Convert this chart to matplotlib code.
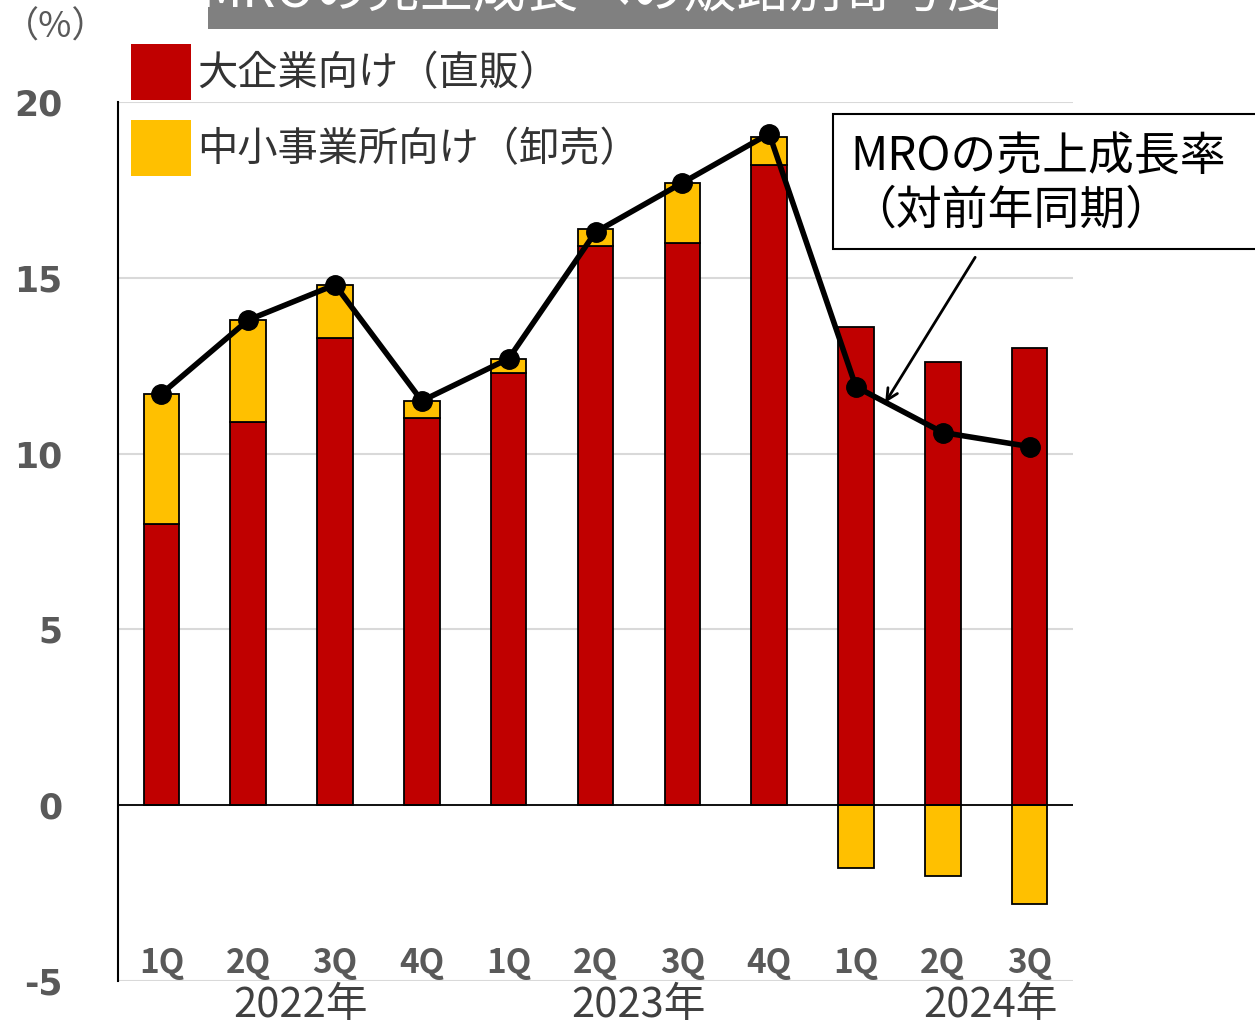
import matplotlib
matplotlib.use("Agg")
import matplotlib.pyplot as plt
from matplotlib.patches import Rectangle, Patch
import numpy as np

plt.rcParams['font.family'] = ['Noto Sans CJK JP', 'DejaVu Sans']

quarters = ["1Q", "2Q", "3Q", "4Q", "1Q", "2Q", "3Q", "4Q", "1Q", "2Q", "3Q"]
years = ["2022年", "2023年", "2024年"]
year_pos = [1.6, 5.5, 9.55]

direct = [8.0, 10.9, 13.3, 11.0, 12.3, 15.9, 16.0, 18.2, 13.6, 12.6, 13.0]
wholesale = [3.7, 2.9, 1.5, 0.5, 0.4, 0.5, 1.7, 0.8, -1.8, -2.0, -2.8]
growth = [11.7, 13.8, 14.8, 11.5, 12.7, 16.3, 17.7, 19.1, 11.9, 10.6, 10.2]

red = "#c00000"
yellow = "#ffc000"
gray = "#595959"

W, H = 1255, 1027
fig = plt.figure(figsize=(W / 100, H / 100), dpi=100)
ax = fig.add_axes([118 / W, 1 - 981 / H, (1073 - 118) / W, (981 - 102) / H])

x = np.arange(len(quarters))
direct = np.array(direct)
wholesale = np.array(wholesale)
bottom_w = np.where(wholesale >= 0, direct, 0)

ax.bar(x, direct, width=0.41, color=red, edgecolor="black", linewidth=1.3, zorder=3)
ax.bar(x, wholesale, width=0.41, bottom=bottom_w, color=yellow, edgecolor="black",
       linewidth=1.3, zorder=3)
ax.plot(x, growth, color="black", linewidth=4, marker="o", markersize=14, zorder=5)

ax.set_xlim(-0.5, 10.5)
ax.set_ylim(-5, 20)
ax.set_yticks([-5, 0, 5, 10, 15, 20])
ax.set_yticklabels(["-5", "0", "5", "10", "15", "20"])
ax.tick_params(axis="y", length=0, pad=40, labelsize=25, labelcolor=gray)
for t in ax.get_yticklabels():
    t.set_fontweight("bold")
    t.set_family("DejaVu Sans")
ax.set_xticks([])
ax.grid(axis="y", color="#d9d9d9", linewidth=1.5, zorder=0)
ax.axhline(0, color="black", linewidth=1.3, zorder=4)
for s in ["top", "right", "bottom"]:
    ax.spines[s].set_visible(False)
ax.spines["left"].set_color("black")
ax.spines["left"].set_linewidth(1.5)

for i, q in enumerate(quarters):
    ax.text(i, -4.5, q, ha="center", va="center", fontsize=24, color=gray,
            fontweight="bold")
for p, yl in zip(year_pos, years):
    ax.text(p, -5.1, yl, ha="center", va="top", fontsize=30, color="#404040",
            clip_on=False)

fig.text(3 / W, 1 - 28 / H, "（%）", ha="left", va="center", fontsize=26, color=gray)

handles = [Patch(facecolor=red, edgecolor="none"), Patch(facecolor=yellow, edgecolor="none")]
fig.legend(handles, ["大企業向け（直販）", "中小事業所向け（卸売）"], loc="upper left",
           bbox_to_anchor=(131 / W, 1 - 44 / H), frameon=False, fontsize=29,
           handlelength=1.5, handleheight=1.75, handletextpad=0.15, labelspacing=0.5,
           labelcolor="#333333", borderaxespad=0, borderpad=0)

# title box (cut at the top of the picture)
fig.patches.append(Rectangle((208 / W, 1 - 29 / H), 790 / W, 60 / H,
                             transform=fig.transFigure, facecolor="#808080",
                             edgecolor="none"))
fig.text(600 / W, 1 + 8 / H, "MROの売上成長への販路別寄与度", ha="center", va="center",
         fontsize=38, color="white")

# annotation box
fig.patches.append(Rectangle((833 / W, 1 - 249 / H), 440 / W, 135 / H,
                             transform=fig.transFigure, facecolor="white",
                             edgecolor="black", linewidth=1.5, zorder=6))
fig.text(850 / W, 1 - 157 / H, "MROの売上成長率", ha="left", va="center",
         fontsize=33, color="black", zorder=7)
fig.text(850 / W, 1 - 210 / H, "（対前年同期）", ha="left", va="center",
         fontsize=33, color="black", zorder=7)

ax.annotate("", xy=(8.32, 11.38), xytext=(9.39, 15.65),
            arrowprops=dict(arrowstyle="->", color="black", lw=2, mutation_scale=20),
            zorder=6)

fig.savefig("out.png", dpi=100)
